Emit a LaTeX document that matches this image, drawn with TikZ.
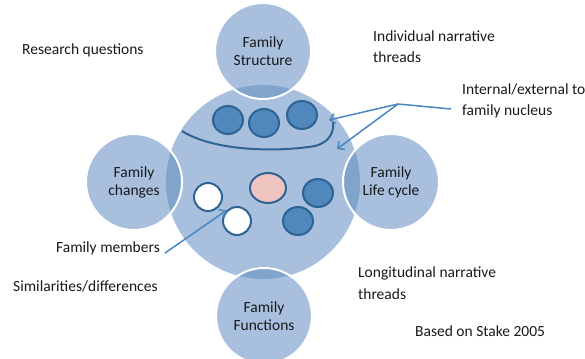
\documentclass[tikz,border=0pt]{standalone}
\usepackage{fontspec}
\setmainfont{Carlito}
\usetikzlibrary{arrows.meta, positioning, shapes.geometric}

\definecolor{paleblue}{RGB}{168,192,222}
\definecolor{lensblue}{RGB}{128,164,204}
\definecolor{dotblue}{RGB}{80,135,188}
\definecolor{rimblue}{RGB}{46,100,148}
\definecolor{pinkdot}{RGB}{238,196,192}
\definecolor{arrowblue}{RGB}{74,134,192}
\definecolor{inktext}{RGB}{25,25,25}

\tikzset{
  sat/.style={circle, minimum size=96pt, inner sep=0pt, align=center,
    text=inktext, font=\fontsize{15.5}{18}\selectfont},
  member/.style={ellipse, minimum width=30pt, minimum height=28pt,
    draw=rimblue, line width=2pt, fill=dotblue},
  caption/.style={anchor=west, align=left, text=inktext, inner sep=0pt,
    font=\fontsize{15.5}{21.5}\selectfont},
  pointer/.style={arrowblue, line width=1.5pt,
    -{Straight Barb[length=5pt, width=10pt]}}
}

\begin{document}
\begin{tikzpicture}[x=1pt, y=-1pt]
    \useasboundingbox (0,0) rectangle (585,358);
    \clip (0,0) rectangle (585,358);

    % nucleus and the four sides
    \node[circle, minimum size=194pt, inner sep=0pt, fill=paleblue] (nucleus) at (263,182) {};
    \node[sat, fill=paleblue] (structure) at (263,51) {};
    \node[sat, fill=paleblue] (changes) at (134,182) {};
    \node[sat, fill=paleblue] (lifecycle) at (391,182) {};
    \node[sat, fill=paleblue] (functions) at (264,316) {};
    \begin{scope}
        \clip (263,182) circle (97);
        \foreach \s in {structure, changes, lifecycle, functions}
            \fill[lensblue] (\s) circle (48);
    \end{scope}
    \foreach \s in {structure, changes, lifecycle, functions}
        \draw[white, line width=2pt] (\s) circle (48);

    \node[sat] at (structure) {Family\\Structure};
    \node[sat] at (changes) {Family\\changes};
    \node[sat] at (lifecycle) {Family\\Life cycle};
    \node[sat] at (functions) {Family\\Functions};

    % members
    \node[member] (m1) at (228,120) {};
    \node[member] (m2) at (264,123) {};
    \node[member] (m3) at (302,115) {};
    \node[member, fill=pinkdot, minimum width=36pt, minimum height=30pt] (m4) at (268,188) {};
    \node[member] (m5) at (318,193) {};
    \node[member] (m6) at (298,221) {};
    \node[member, fill=white, minimum width=28pt] (m7) at (208,197) {};
    \node[member, fill=white, minimum width=28pt] (m8) at (237,221) {};

    \draw[rimblue, line width=2pt] (182,131) .. controls (215,152) and (280,152) .. (315,146)
        .. controls (330,142) and (334,132) .. (333,122);

    % captions
    \node[caption] (research) at (22,50) {Research questions};
    \node[caption] (individual) at (373,46.5) {Individual narrative\\threads};
    \node[caption] (internal) at (462,101) {Internal/external to\\family nucleus};
    \node[caption, anchor=east] (members) at (160,248) {Family members};
    \node[caption] (similar) at (13,286) {Similarities/differences};
    \node[caption] (longitudinal) at (358,283) {Longitudinal narrative\\threads};
    \node[caption] (stake) at (415,331) {Based on Stake 2005};

    \coordinate (split) at (398,104);
    \coordinate (tipA) at (329,120);
    \coordinate (tipB) at (337,149);
    \draw[arrowblue, line width=1.5pt] ([xshift=-11pt, yshift=-8pt]internal.west) -- (split);
    \draw[pointer] (split) -- (tipA);
    \draw[pointer] (split) -- (tipB);
    \draw[pointer] ([xshift=5pt, yshift=-5pt]members.east) -- (m8.north west);
\end{tikzpicture}
\end{document}
